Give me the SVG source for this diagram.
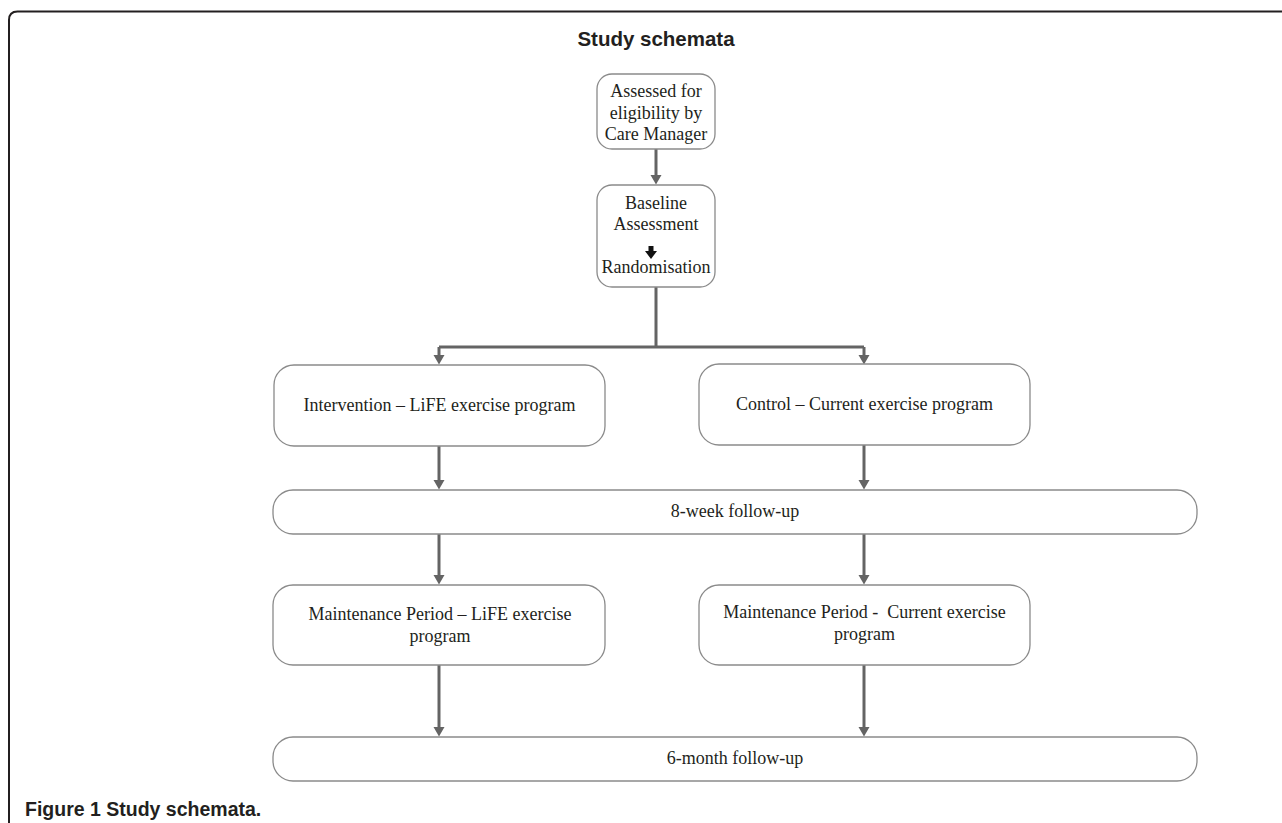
<svg xmlns="http://www.w3.org/2000/svg" width="1282" height="823" viewBox="0 0 1282 823">
<style>
.box{fill:#fff;stroke:#8a8a8a;stroke-width:1.3}
.t{font-family:"Liberation Serif","Times New Roman",serif;font-size:18px;fill:#231f20;text-anchor:middle}
.c{fill:none;stroke:#646464;stroke-width:3}
.title{font-family:"Liberation Sans",Arial,sans-serif;font-size:20.5px;font-weight:bold;fill:#231f20;text-anchor:middle}
.cap{font-family:"Liberation Sans",Arial,sans-serif;font-size:19.5px;font-weight:bold;fill:#231f20}
</style>
<defs>
<marker id="ah" markerUnits="userSpaceOnUse" markerWidth="12" markerHeight="12" viewBox="0 -6 12 12" refX="0" refY="0" orient="auto">
<path d="M0,-5.5 L9.5,0 L0,5.5 z" fill="#646464"/>
</marker>
</defs>
<rect width="1282" height="823" fill="#fff"/>
<path d="M9,823 V20 Q9,11.5 17.5,11.5 H1282" fill="none" stroke="#231f20" stroke-width="2"/>
<text class="title" x="656" y="46">Study schemata</text>
<g id="connectors">
<path class="c" d="M656,149 V175" marker-end="url(#ah)"/>
<path class="c" d="M656,287 V347 M439,347 H864"/>
<path class="c" d="M439,347 V355" marker-end="url(#ah)"/>
<path class="c" d="M864,347 V355" marker-end="url(#ah)"/>
<path class="c" d="M439,446 V480" marker-end="url(#ah)"/>
<path class="c" d="M864,445 V480" marker-end="url(#ah)"/>
<path class="c" d="M439,534 V575" marker-end="url(#ah)"/>
<path class="c" d="M864,534 V575" marker-end="url(#ah)"/>
<path class="c" d="M439,665 V727" marker-end="url(#ah)"/>
<path class="c" d="M864,665 V727" marker-end="url(#ah)"/>
</g>
<g id="n-assess">
<rect class="box" x="597" y="74" width="118" height="75" rx="15"/>
<text class="t" x="656" y="97">Assessed for</text>
<text class="t" x="656" y="118.5">eligibility by</text>
<text class="t" x="656" y="140">Care Manager</text>
</g>
<g id="n-baseline">
<rect class="box" x="597" y="185" width="118" height="102" rx="15"/>
<text class="t" x="656" y="209">Baseline</text>
<text class="t" x="656" y="230">Assessment</text>
<path d="M648.5,246 H653.5 V251 H657 L651,259 L645,251 H648.5 Z" fill="#111"/>
<text class="t" x="656" y="273">Randomisation</text>
</g>
<g id="n-intervention">
<rect class="box" x="274" y="365" width="331" height="81" rx="20"/>
<text class="t" x="439.5" y="411">Intervention – LiFE exercise program</text>
</g>
<g id="n-control">
<rect class="box" x="699" y="364" width="331" height="81" rx="20"/>
<text class="t" x="864.5" y="410">Control – Current exercise program</text>
</g>
<g id="n-8week">
<rect class="box" x="273" y="490" width="924" height="44" rx="20"/>
<text class="t" x="735" y="517">8-week follow-up</text>
</g>
<g id="n-maint-life">
<rect class="box" x="273" y="585" width="332" height="80" rx="20"/>
<text class="t" x="440" y="620">Maintenance Period – LiFE exercise</text>
<text class="t" x="440" y="642">program</text>
</g>
<g id="n-maint-current">
<rect class="box" x="699" y="585" width="331" height="80" rx="20"/>
<text class="t" x="864.5" y="618" xml:space="preserve">Maintenance Period -  Current exercise</text>
<text class="t" x="864.5" y="640">program</text>
</g>
<g id="n-6month">
<rect class="box" x="273" y="737" width="924" height="44" rx="20"/>
<text class="t" x="735" y="764">6-month follow-up</text>
</g>
<text class="cap" x="25" y="816">Figure 1 Study schemata.</text>
</svg>
